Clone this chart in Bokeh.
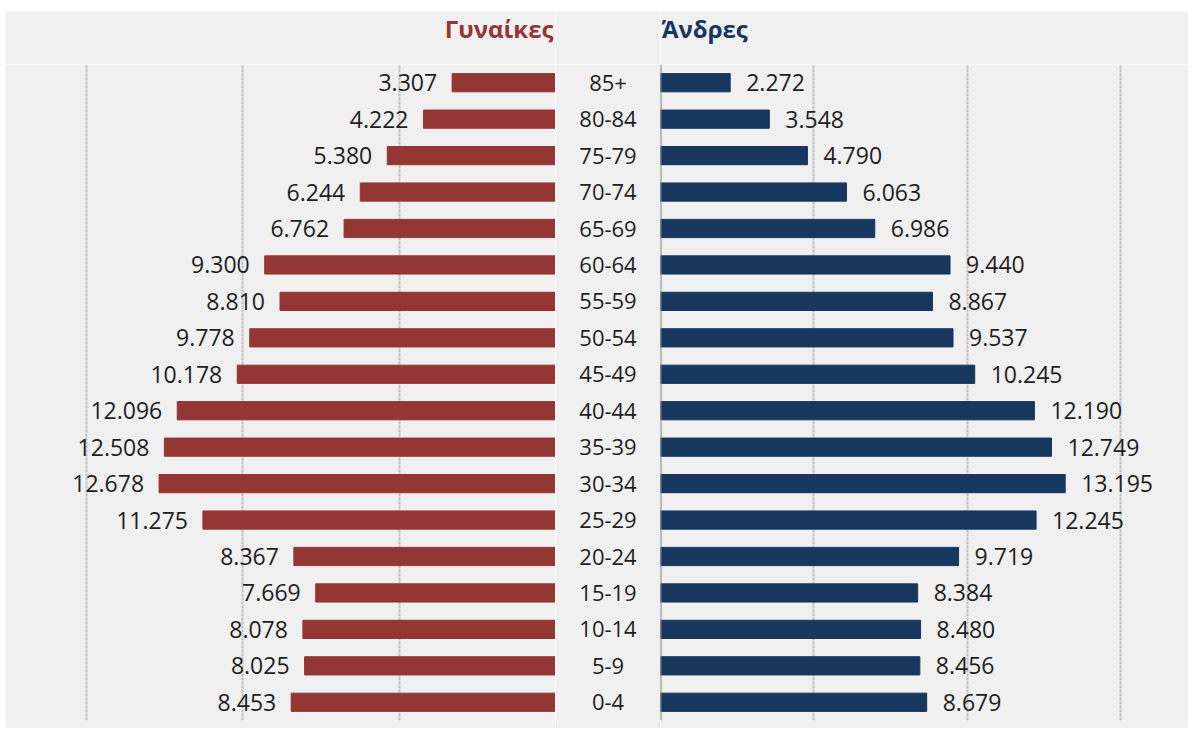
from bokeh.plotting import figure
from bokeh.layouts import row, column, Spacer
from bokeh.models import Range1d, FactorRange, ColumnDataSource, FixedTicker, Span
from bokeh.core.properties import value
from bokeh.embed import file_html
from bokeh.resources import INLINE

ages = ["85+", "80-84", "75-79", "70-74", "65-69", "60-64", "55-59", "50-54", "45-49",
        "40-44", "35-39", "30-34", "25-29", "20-24", "15-19", "10-14", "5-9", "0-4"]
women = [3307, 4222, 5380, 6244, 6762, 9300, 8810, 9778, 10178,
         12096, 12508, 12678, 11275, 8367, 7669, 8078, 8025, 8453]
men = [2272, 3548, 4790, 6063, 6986, 9440, 8867, 9537, 10245,
       12190, 12749, 13195, 12245, 9719, 8384, 8480, 8456, 8679]
grid_ticks = [0, 5000, 10000, 15000]
titles = ["Γυναίκες", "Άνδρες"]

BG = "#f0f0f0"
RED = "#943634"
BLUE = "#17375e"
TXT = "#1e1e1e"
FONT = "Open Sans"
HEAD_H = 53
BODY_H = 664
BOTTOM = 8
WL, WM, WR = 550, 105, 528


def fmt(v):
    return f"{v:,}".replace(",", ".")


yr = FactorRange(factors=list(reversed(ages)), range_padding=0)
xl = Range1d(17589, 0)
xm = Range1d(0, 1)
xr = Range1d(0, 17215)

src = ColumnDataSource(dict(age=ages, women=women, men=men,
                            wlab=[fmt(v) for v in women], mlab=[fmt(v) for v in men]))


def style(p):
    p.background_fill_color = BG
    p.border_fill_color = BG
    p.outline_line_color = None
    p.ygrid.grid_line_color = None
    return p


def body(width, x_range):
    p = figure(width=width, height=BODY_H, x_range=x_range, y_range=yr,
               output_backend="svg", toolbar_location=None,
               x_axis_location=None, y_axis_location=None,
               min_border_left=0, min_border_right=0, min_border_top=0,
               min_border_bottom=BOTTOM)
    return style(p)


def header(width, x_range, text=None, color=TXT, align="left", xoff=0):
    p = figure(width=width, height=HEAD_H, x_range=x_range, y_range=Range1d(0, HEAD_H),
               output_backend="svg", toolbar_location=None,
               x_axis_location=None, y_axis_location=None,
               min_border=0)
    style(p)
    p.xgrid.grid_line_color = None
    if text:
        p.text(x=[0], y=[36], text=[text], x_offset=xoff, text_align=align,
               text_baseline="alphabetic", text_font=value(FONT),
               text_font_size="24px", text_font_style="bold", text_color=color)
    return p


def grid(p, ticks):
    p.xgrid.ticker = FixedTicker(ticks=ticks)
    p.xgrid.grid_line_color = "#c0c0c0"
    p.xgrid.grid_line_width = 2
    p.xgrid.grid_line_dash = "3 1"


# Headers
hl = header(WL, xl, titles[0], RED, "right", -2)
hm = header(WM, xm)
hr = header(WR, xr, titles[1], BLUE, "left", 1)

# Left: women
pl = body(WL, xl)
grid(pl, grid_ticks)
pl.hbar(y="age", left=0, right="women", height=0.5, color=RED, source=src)
pl.text(x="women", y="age", text="wlab", source=src, x_offset=-15,
        text_align="right", text_baseline="middle", text_font=value(FONT),
        text_font_size="23px", text_color=TXT)

# Middle: age labels
pm = body(WM, xm)
pm.xgrid.grid_line_color = None
pm.text(x=0.5, y="age", text="age", source=src, text_align="center",
        text_baseline="middle", text_font=value(FONT), text_font_size="22px",
        text_color=TXT)

# Right: men
pr = body(WR, xr)
grid(pr, grid_ticks[1:])
pr.add_layout(Span(location=0, dimension="height", line_color="#808080", line_width=2))
pr.hbar(y="age", left=0, right="men", height=0.5, color=BLUE, source=src)
pr.text(x="men", y="age", text="mlab", source=src, x_offset=16,
        text_align="left", text_baseline="middle", text_font=value(FONT),
        text_font_size="23px", text_color=TXT)

layout = column(
    Spacer(height=11),
    row(Spacer(width=5), hl, hm, hr, spacing=0),
    row(Spacer(width=5), pl, pm, pr, spacing=0),
    spacing=0,
)
open("out.html", "w").write(file_html(layout, INLINE))
